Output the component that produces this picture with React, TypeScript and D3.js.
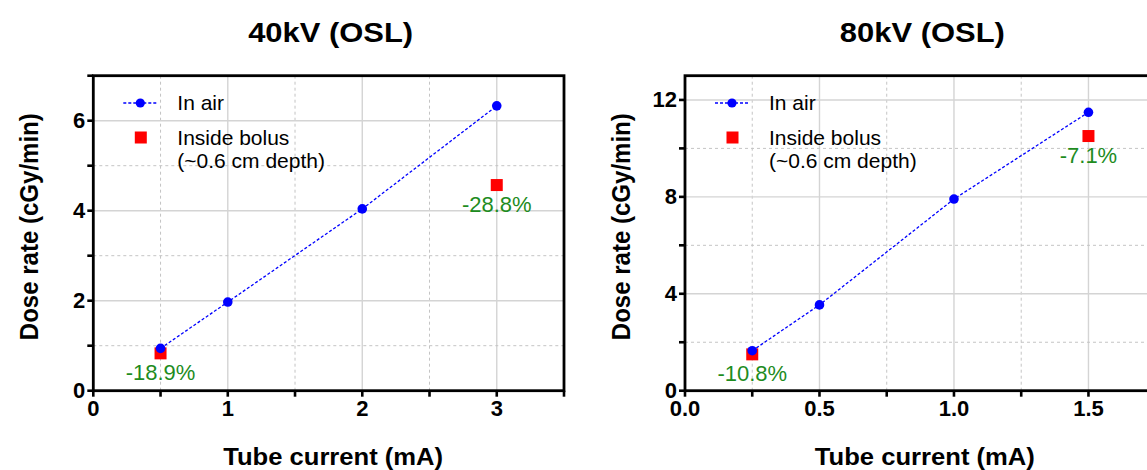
import React from "react";
import * as d3 from "d3";

// 40 kV panel
const current40 = [0.5, 1, 2, 3];
const air40 = [0.94, 1.97, 4.04, 6.33];
const bolusCurrent40 = [0.5, 3];
const bolus40 = [0.83, 4.57];
const diff40 = ["-18.9%", "-28.8%"];
const xTicks40 = [0, 0.5, 1, 1.5, 2, 2.5, 3, 3.5];
const xLabels40 = [0, 1, 2, 3];
const yTicks40 = [0, 1, 2, 3, 4, 5, 6, 7];
const yLabels40 = [0, 2, 4, 6];

// 80 kV panel
const current80 = [0.25, 0.5, 1.0, 1.5];
const air80 = [1.65, 3.54, 7.91, 11.49];
const bolusCurrent80 = [0.25, 1.5];
const bolus80 = [1.5, 10.51];
const diff80 = ["-10.8%", "-7.1%"];
const xTicks80 = [0, 0.25, 0.5, 0.75, 1.0, 1.25, 1.5, 1.75];
const xLabels80 = [0, 0.5, 1.0, 1.5];
const yTicks80 = [0, 2, 4, 6, 8, 10, 12];
const yLabels80 = [0, 4, 8, 12];

const FONT = "'Liberation Sans', Arial, Helvetica, sans-serif";
const BLUE = "#0000ff";
const RED = "#ff0000";
const GREEN = "#1e8c1e";

type PanelProps = {
  left: number;
  title: string;
  xMax: number;
  yMax: number;
  xs: number[];
  air: number[];
  bxs: number[];
  bolus: number[];
  diffs: string[];
  xTicks: number[];
  xLabels: number[];
  yTicks: number[];
  yLabels: number[];
  xFmt: (v: number) => string;
};

const TOP = 75.7;
const BOTTOM = 390.7;
const WIDTH = 470.7;

function Panel(p: PanelProps) {
  const x = d3.scaleLinear().domain([0, p.xMax]).range([p.left, p.left + WIDTH]);
  const y = d3.scaleLinear().domain([0, p.yMax]).range([BOTTOM, TOP]);
  const line = d3
    .line<number>()
    .x((_, i) => x(p.xs[i]))
    .y((d) => y(d));
  const cx = p.left + WIDTH / 2;
  const isMajorX = (v: number) => p.xLabels.some((l) => Math.abs(l - v) < 1e-9);
  const isMajorY = (v: number) => p.yLabels.some((l) => Math.abs(l - v) < 1e-9);

  return (
    <g>
      {/* title */}
      <text
        x={cx + 2}
        y={42}
        textAnchor="middle"
        fontFamily={FONT}
        fontWeight="bold"
        fontSize={28}
        textLength={165}
        lengthAdjust="spacingAndGlyphs"
      >
        {p.title}
      </text>

      {/* grid */}
      {p.xTicks
        .filter((v) => v > 0 && v < p.xMax)
        .map((v) => (
          <line
            key={"gx" + v}
            x1={x(v)}
            x2={x(v)}
            y1={TOP}
            y2={BOTTOM}
            stroke={isMajorX(v) ? "#d4d4d4" : "#c4c4c4"}
            strokeWidth={isMajorX(v) ? 1.4 : 1}
            strokeDasharray={isMajorX(v) ? undefined : "3,3"}
          />
        ))}
      {p.yTicks
        .filter((v) => v > 0 && v < p.yMax)
        .map((v) => (
          <line
            key={"gy" + v}
            x1={p.left}
            x2={p.left + WIDTH}
            y1={y(v)}
            y2={y(v)}
            stroke={isMajorY(v) ? "#d4d4d4" : "#c4c4c4"}
            strokeWidth={isMajorY(v) ? 1.4 : 1}
            strokeDasharray={isMajorY(v) ? undefined : "3,3"}
          />
        ))}

      {/* frame */}
      <rect
        x={p.left}
        y={TOP}
        width={WIDTH}
        height={BOTTOM - TOP}
        fill="none"
        stroke="#000"
        strokeWidth={2.8}
      />

      {/* ticks */}
      {p.xTicks.map((v) => (
        <line
          key={"tx" + v}
          x1={x(v)}
          x2={x(v)}
          y1={BOTTOM}
          y2={BOTTOM + 6}
          stroke="#000"
          strokeWidth={2.6}
        />
      ))}
      {p.yTicks.map((v) => (
        <line
          key={"ty" + v}
          x1={p.left - 6}
          x2={p.left}
          y1={y(v)}
          y2={y(v)}
          stroke="#000"
          strokeWidth={2.6}
        />
      ))}
      {p.xLabels.map((v) => (
        <text
          key={"lx" + v}
          x={x(v)}
          y={415.5}
          textAnchor="middle"
          fontFamily={FONT}
          fontWeight="bold"
          fontSize={22}
        >
          {p.xFmt(v)}
        </text>
      ))}
      {p.yLabels.map((v) => (
        <text
          key={"ly" + v}
          x={p.left - 8}
          y={y(v)}
          dy="0.33em"
          textAnchor="end"
          fontFamily={FONT}
          fontWeight="bold"
          fontSize={22}
        >
          {v}
        </text>
      ))}

      {/* axis titles */}
      <text
        x={cx + 4.5}
        y={465}
        textAnchor="middle"
        fontFamily={FONT}
        fontWeight="bold"
        fontSize={23}
        textLength={220}
        lengthAdjust="spacingAndGlyphs"
      >
        Tube current (mA)
      </text>
      <text
        transform={`translate(${p.left - 55},${(TOP + BOTTOM) / 2 - 6.5}) rotate(-90)`}
        textAnchor="middle"
        fontFamily={FONT}
        fontWeight="bold"
        fontSize={25}
        textLength={227}
        lengthAdjust="spacingAndGlyphs"
      >
        Dose rate (cGy/min)
      </text>

      {/* in-air series */}
      <path d={line(p.air) ?? ""} fill="none" stroke={BLUE} strokeWidth={1.3} strokeDasharray="3,2" />

      {/* bolus series */}
      {p.bolus.map((v, i) => (
        <rect
          key={"b" + i}
          x={x(p.bxs[i]) - 6}
          y={y(v) - 6}
          width={12}
          height={12}
          fill={RED}
        />
      ))}
      {/* in-air dots sit above the squares */}
      {p.air.map((v, i) => (
        <circle key={"a" + i} cx={x(p.xs[i])} cy={y(v)} r={4.8} fill={BLUE} />
      ))}
      {p.diffs.map((t, i) => (
        <text
          key={"d" + i}
          x={x(p.bxs[i])}
          y={y(p.bolus[i]) + 27}
          textAnchor="middle"
          fontFamily={FONT}
          fontSize={22}
          fill={GREEN}
        >
          {t}
        </text>
      ))}

      {/* legend */}
      <line
        x1={p.left + 30}
        x2={p.left + 65}
        y1={103}
        y2={103}
        stroke={BLUE}
        strokeWidth={1.3}
        strokeDasharray="3,2"
      />
      <circle cx={p.left + 47} cy={103} r={4.6} fill={BLUE} />
      <text x={p.left + 84} y={110} fontFamily={FONT} fontSize={21}>
        In air
      </text>
      <rect x={p.left + 41.5} y={131.5} width={12} height={12} fill={RED} />
      <text x={p.left + 84} y={145} fontFamily={FONT} fontSize={21}>
        Inside bolus
      </text>
      <text x={p.left + 84} y={168} fontFamily={FONT} fontSize={21}>
        (~0.6 cm depth)
      </text>
    </g>
  );
}

export default function App() {
  return (
    <svg
      width={1147}
      height={470}
      style={{ position: "absolute", left: 0, top: 0, background: "#fff" }}
    >
      <rect x={0} y={0} width={1147} height={470} fill="#fff" />
      <Panel
        left={93.3}
        title="40kV (OSL)"
        xMax={3.5}
        yMax={7}
        xs={current40}
        air={air40}
        bxs={bolusCurrent40}
        bolus={bolus40}
        diffs={diff40}
        xTicks={xTicks40}
        xLabels={xLabels40}
        yTicks={yTicks40}
        yLabels={yLabels40}
        xFmt={(v) => String(v)}
      />
      <Panel
        left={685}
        title="80kV (OSL)"
        xMax={1.75}
        yMax={13}
        xs={current80}
        air={air80}
        bxs={bolusCurrent80}
        bolus={bolus80}
        diffs={diff80}
        xTicks={xTicks80}
        xLabels={xLabels80}
        yTicks={yTicks80}
        yLabels={yLabels80}
        xFmt={(v) => v.toFixed(1)}
      />
    </svg>
  );
}
